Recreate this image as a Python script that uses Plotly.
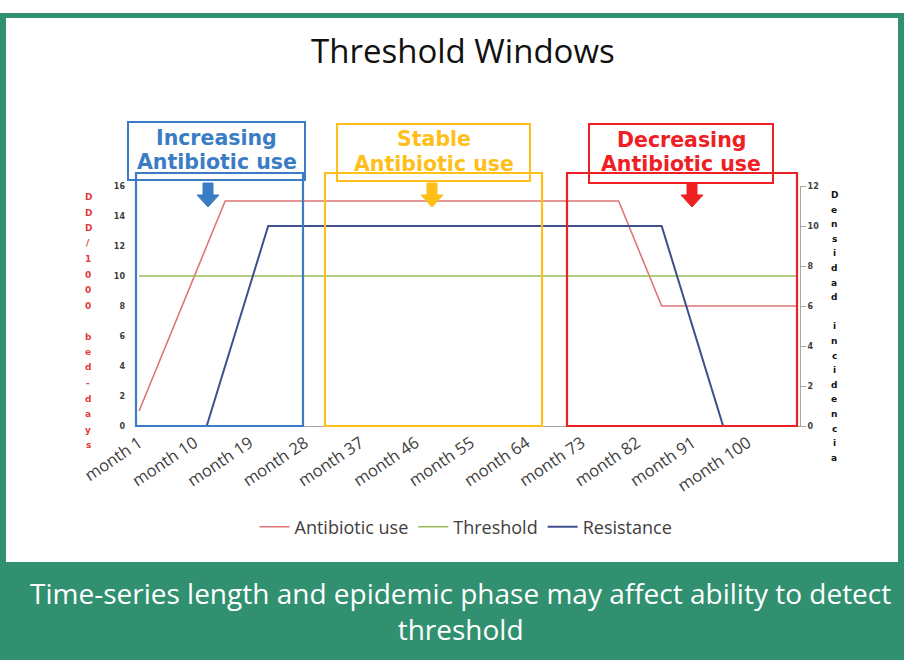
import plotly.graph_objects as go

W, H = 904, 660

# ---- data ----
tick_months = [1, 10, 19, 28, 37, 46, 55, 64, 73, 82, 91, 100]
tick_labels = ["month 1", "month 10", "month 19", "month 28", "month 37", "month 46",
               "month 55", "month 64", "month 73", "month 82", "month 91", "month 100"]
abx_month = [1, 15, 79, 86, 108]
abx_value = [1, 15, 15, 8, 8]
thr_month = [1, 108]
thr_value = [10, 10]
res_month = [12, 22, 86, 96]
res_value = [0, 10, 10, 0]

left_ticks = [0, 2, 4, 6, 8, 10, 12, 14, 16]
right_ticks = [0, 2, 4, 6, 8, 10, 12]
left_title = "DDD/1000 bed-days"
right_title = "Densidad incidencia"

title_text = "Threshold Windows"
footer_text = "Time-series length and epidemic phase may affect ability to detect<br>threshold"
windows = [
    (["Increasing", "Antibiotic use"], "#3b7dc4"),
    (["Stable", "Antibiotic use"], "#ffbf1a"),
    (["Decreasing", "Antibiotic use"], "#ee2024"),
]

def px(x):
    return x / W

def py(y):
    return 1 - y / H

fig = go.Figure()
fig.add_trace(go.Scatter(x=abx_month, y=abx_value, mode="lines", name="Antibiotic use",
                         line=dict(color="#dc7676", width=1.6)))
fig.add_trace(go.Scatter(x=thr_month, y=thr_value, mode="lines", name="Threshold",
                         line=dict(color="#9bbb59", width=1.6)))
fig.add_trace(go.Scatter(x=res_month, y=res_value, mode="lines", name="Resistance",
                         line=dict(color="#3f4f8c", width=2), yaxis="y2"))

shapes = []
# frame
shapes.append(dict(type="rect", xref="paper", yref="paper", x0=px(0), x1=px(904),
                   y0=py(13), y1=py(660), fillcolor="#31906f", line=dict(width=0), layer="below"))
shapes.append(dict(type="rect", xref="paper", yref="paper", x0=px(6), x1=px(898),
                   y0=py(18), y1=py(562), fillcolor="white", line=dict(width=0), layer="below"))

# window boxes: (rect x0,x1, label x0,x1,y0,y1, arrow cx, text line y's)
geo = [
    (136, 303, 128, 305, 122, 180, 208, (138, 162)),
    (325, 542, 337, 530, 124, 181, 432, (139, 164)),
    (567, 797, 589, 773, 124, 183, 692, (140, 164)),
]
annotations = []
for (lines, col), (rx0, rx1, lx0, lx1, ly0, ly1, acx, tys) in zip(windows, geo):
    shapes.append(dict(type="rect", xref="paper", yref="paper", x0=px(rx0), x1=px(rx1),
                       y0=py(426), y1=py(173), line=dict(color=col, width=2.2), layer="above"))
    shapes.append(dict(type="rect", xref="paper", yref="paper", x0=px(lx0), x1=px(lx1),
                       y0=py(ly1), y1=py(ly0), line=dict(color=col, width=2), layer="above"))
    # down arrow
    pts = [(acx - 5, 183), (acx + 5, 183), (acx + 5, 195), (acx + 11, 195),
           (acx, 207), (acx - 11, 195), (acx - 5, 195)]
    path = "M " + " L ".join(f"{px(x):.5f},{py(y):.5f}" for x, y in pts) + " Z"
    shapes.append(dict(type="path", xref="paper", yref="paper", path=path,
                       fillcolor=col, line=dict(color=col, width=1), layer="above"))
    for line_text, ty in zip(lines, tys):
        annotations.append(dict(text=f"<b>{line_text}</b>", xref="paper", yref="paper",
                                x=px((lx0 + lx1) / 2), y=py(ty), showarrow=False,
                                xanchor="center", yanchor="middle",
                                font=dict(family="DejaVu Sans", size=20.5, color=col)))

annotations.append(dict(text=title_text, xref="paper", yref="paper", x=px(463), y=py(50),
                        showarrow=False, xanchor="center", yanchor="middle",
                        font=dict(family="Open Sans", size=33, color="#111111")))
annotations.append(dict(text=footer_text, xref="paper", yref="paper", x=px(460), y=py(611),
                        showarrow=False, xanchor="center", yanchor="middle",
                        font=dict(family="Open Sans", size=28, color="white")))

for i, ch in enumerate(left_title):
    if ch == " ":
        continue
    annotations.append(dict(text=f"<b>{ch}</b>", xref="paper", yref="paper", x=px(88),
                            y=py(197 + i * 15.5), showarrow=False, xanchor="center",
                            yanchor="middle", font=dict(family="DejaVu Sans", size=9, color="#e03a3a")))
for i, ch in enumerate(right_title):
    if ch == " ":
        continue
    annotations.append(dict(text=f"<b>{ch}</b>", xref="paper", yref="paper", x=px(834),
                            y=py(195 + i * 14.6), showarrow=False, xanchor="center",
                            yanchor="middle", font=dict(family="DejaVu Sans", size=9, color="#111111")))

fig.update_layout(
    width=W, height=H,
    margin=dict(l=0, r=0, t=0, b=0, autoexpand=False),
    paper_bgcolor="white", plot_bgcolor="rgba(0,0,0,0)",
    showlegend=True,
    legend=dict(orientation="h", x=px(466), xanchor="center", y=py(527), yanchor="middle",
                font=dict(family="Open Sans", size=18, color="#404040"),
                bgcolor="rgba(0,0,0,0)", itemwidth=30, tracegroupgap=0),
    xaxis=dict(domain=[px(136), px(800)], range=[0.5, 108.5], tickmode="array",
               tickvals=tick_months, ticktext=tick_labels, tickangle=-34,
               showgrid=False, zeroline=False, showline=True, linecolor="#a6a6a6", linewidth=1,
               ticks="", tickfont=dict(family="Open Sans", size=16.5, color="#404040")),
    yaxis=dict(domain=[py(426), py(186)], range=[0, 16], tickmode="array", tickvals=left_ticks,
               showgrid=False, zeroline=False, showline=False, ticks="",
               ticklabelstandoff=10,
               tickfont=dict(family="DejaVu Sans", size=8, color="#404040", weight="bold")),
    yaxis2=dict(overlaying="y", side="right", range=[0, 12], tickmode="array", tickvals=right_ticks,
                showgrid=False, zeroline=False, showline=True, linecolor="#a6a6a6",
                ticks="outside", ticklen=5, tickcolor="#a6a6a6",
                tickfont=dict(family="DejaVu Sans", size=8, color="#404040", weight="bold")),
    shapes=shapes,
    annotations=annotations,
)

fig.write_html("out.html", config={"displayModeBar": False},
               post_script="document.body.style.margin='0px';")
